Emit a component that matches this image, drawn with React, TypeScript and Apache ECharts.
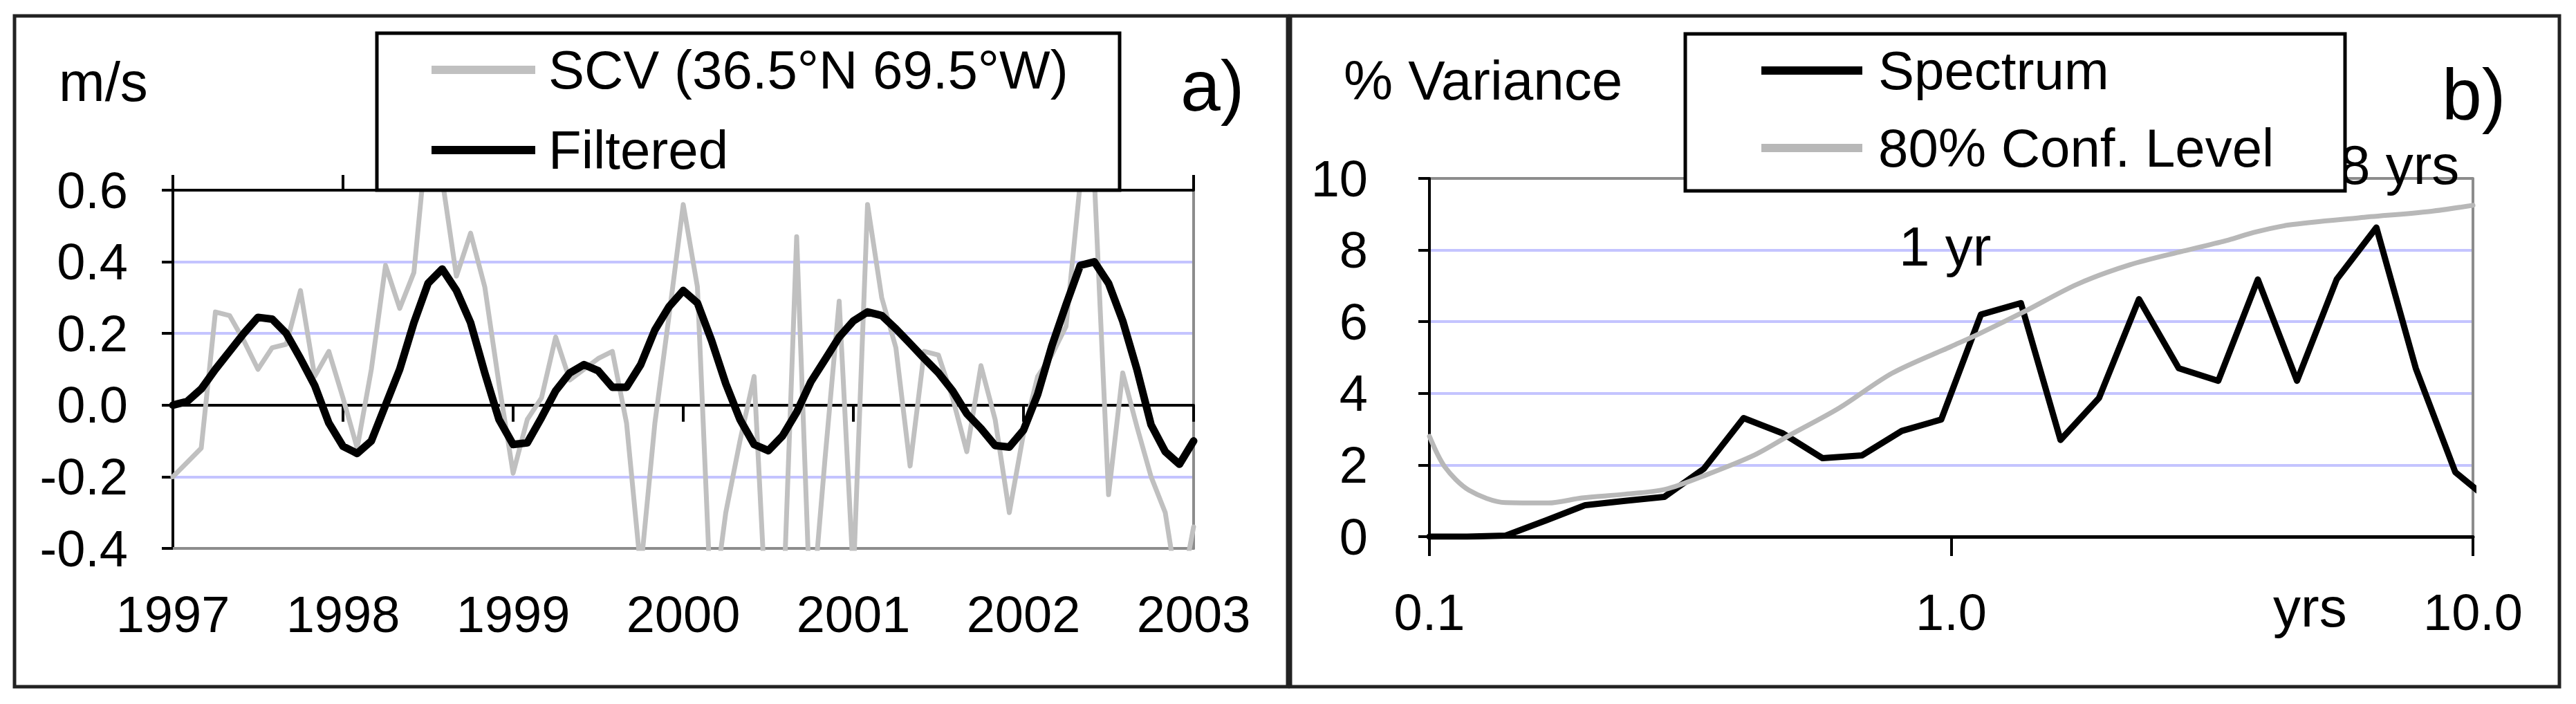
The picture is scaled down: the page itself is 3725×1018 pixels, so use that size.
import React, { useEffect, useRef } from "react";
import * as echarts from "echarts";

const FONT = '"Liberation Sans", Arial, Helvetica, sans-serif';

// ---------- Panel a: monthly current speed (m/s), Jan 1997 .. Jan 2003 ----------
const startYear = 1997;
const endYear = 2003;
const scvValues = [
  -0.2, -0.16, -0.12, 0.26, 0.25, 0.18, 0.1, 0.16, 0.17, 0.32,
  0.08, 0.15, 0.02, -0.12, 0.1, 0.39, 0.27, 0.37, 0.78, 0.63,
  0.36, 0.48, 0.33, 0.06, -0.19, -0.04, 0.02, 0.19, 0.07, 0.1,
  0.13, 0.15, -0.05, -0.46, -0.05, 0.25, 0.56, 0.33, -0.6, -0.3,
  -0.1, 0.08, -0.7, -0.62, 0.47, -0.62, -0.15, 0.29, -0.48, 0.56,
  0.3, 0.16, -0.17, 0.15, 0.14, 0.02, -0.13, 0.11, -0.04, -0.3,
  -0.08, 0.08, 0.14, 0.22, 0.62, 0.63, -0.25, 0.09, -0.06, -0.2,
  -0.3, -0.55, -0.34,
];
const filteredValues = [
  0.0, 0.01, 0.045, 0.1, 0.15, 0.2, 0.245, 0.24, 0.2, 0.13,
  0.055, -0.05, -0.115, -0.135, -0.1, 0.0, 0.1, 0.23, 0.34, 0.38,
  0.32, 0.23, 0.09, -0.04, -0.11, -0.105, -0.035, 0.04, 0.09, 0.113,
  0.096, 0.05, 0.05, 0.113, 0.21, 0.275, 0.32, 0.285, 0.18, 0.06,
  -0.04, -0.11, -0.127, -0.086, -0.02, 0.065, 0.127, 0.19, 0.235, 0.26,
  0.25, 0.213, 0.172, 0.13, 0.09, 0.04, -0.024, -0.065, -0.113, -0.117,
  -0.07, 0.03, 0.165, 0.28, 0.39, 0.4, 0.34, 0.235, 0.1, -0.055,
  -0.13, -0.165, -0.1,
];
const aYMin = -0.4;
const aYMax = 0.6;
const aYStep = 0.2;

// ---------- Panel b: variance spectrum vs period (yrs) ----------
const specPeriods = [
  0.1, 0.118, 0.14, 0.167, 0.199, 0.237, 0.282, 0.336, 0.4, 0.476,
  0.567, 0.675, 0.804, 0.957, 1.14, 1.36, 1.62, 1.92, 2.29, 2.73,
  3.25, 3.87, 4.6, 5.48, 6.53, 7.77, 9.25, 11.0,
];
const specValues = [
  0.0, 0.0, 0.03, 0.45, 0.88, 1.0, 1.11, 1.9, 3.31, 2.88,
  2.19, 2.27, 2.95, 3.27, 6.2, 6.52, 2.7, 3.87, 6.63, 4.7,
  4.35, 7.18, 4.35, 7.18, 8.63, 4.7, 1.8, 0.9,
];
const confPeriods = [
  0.1, 0.107, 0.119, 0.14, 0.169, 0.196, 0.235, 0.283, 0.34, 0.42,
  0.49, 0.61, 0.77, 1.0, 1.13, 1.38, 1.74, 2.2, 2.78, 3.4,
  3.8, 4.44, 6.05, 8.28, 10.0,
];
const confValues = [
  2.8, 1.95, 1.3, 0.95, 0.94, 1.08, 1.18, 1.32, 1.73, 2.28,
  2.83, 3.59, 4.56, 5.31, 5.66, 6.28, 7.04, 7.59, 7.97, 8.28,
  8.49, 8.7, 8.9, 9.08, 9.25,
];
const bYMin = 0;
const bYMax = 10;
const bYStep = 2;

const NAME_SCV = "SCV (36.5°N 69.5°W)";
const NAME_FILT = "Filtered";
const NAME_SPEC = "Spectrum";
const NAME_CONF = "80% Conf. Level";

const GRID_COLOR = "#c4c4ff";
const BORDER_GREY = "#8c8c8c";

function legendRow(name: string, left: number, centerY: number, iconW: number, textGap: number) {
  const lh = 90;
  return {
    data: [name],
    orient: "vertical",
    left,
    top: centerY - lh / 2,
    padding: 0,
    itemWidth: iconW,
    itemHeight: 12,
    icon: "rect",
    selectedMode: false,
    z: 10,
    textStyle: {
      fontSize: 78,
      fontFamily: FONT,
      color: "#000",
      lineHeight: lh,
      padding: [0, 0, 0, textGap],
    },
  };
}

function buildOption() {
  const monthX = (i: number) => startYear + i / 12;
  const scvData = scvValues.map((v, i) => [monthX(i), v]);
  const filtData = filteredValues.map((v, i) => [monthX(i), v]);
  const specData = specPeriods.map((p, i) => [p, specValues[i]]);
  const confData = confPeriods.map((p, i) => [p, confValues[i]]);

  const tickLabel = { fontSize: 74, fontFamily: FONT, color: "#000" };
  const gridA = { left: 250, top: 275, width: 1476, height: 518 };
  const gridB = { left: 2067, top: 258, width: 1509, height: 518 };

  const txt = (text: string, x: number, y: number, size: number, z = 1) => ({
    type: "text",
    x,
    y,
    z,
    style: {
      text,
      fontSize: size,
      fontFamily: FONT,
      fill: "#000",
      verticalAlign: "middle",
      textVerticalAlign: "middle",
    },
  });

  return {
    animation: false,
    backgroundColor: "#fff",
    grid: [
      { ...gridA, containLabel: false },
      { ...gridA, containLabel: false },
      { ...gridB, containLabel: false },
    ],
    xAxis: [
      {
        gridIndex: 0,
        type: "value",
        min: startYear,
        max: endYear,
        interval: 1,
        position: "bottom",
        axisLine: { show: true, onZero: true, lineStyle: { color: "#000", width: 4 } },
        axisTick: { show: true, length: 24, lineStyle: { color: "#000", width: 4 } },
        axisLabel: { show: false },
        splitLine: { show: false },
      },
      {
        gridIndex: 0,
        type: "value",
        min: startYear,
        max: endYear,
        interval: 1,
        position: "top",
        axisLine: { show: true, onZero: true, lineStyle: { color: "#000", width: 4 } },
        axisTick: { show: true, length: 22, lineStyle: { color: "#000", width: 4 } },
        axisLabel: { show: false },
        splitLine: { show: false },
      },
      {
        gridIndex: 1,
        type: "value",
        min: startYear,
        max: endYear,
        interval: 1,
        position: "bottom",
        axisLine: { show: true, onZero: false, lineStyle: { color: BORDER_GREY, width: 4 } },
        axisTick: { show: false },
        axisLabel: { ...tickLabel, margin: 58, formatter: (v: number) => String(Math.round(v)) },
        splitLine: { show: false },
      },
      {
        gridIndex: 2,
        type: "log",
        logBase: 10,
        min: 0.1,
        max: 10,
        position: "bottom",
        axisLine: { show: true, onZero: false, lineStyle: { color: "#000", width: 5 } },
        axisTick: { show: true, length: 28, lineStyle: { color: "#000", width: 4 } },
        minorTick: { show: false },
        axisLabel: { ...tickLabel, margin: 72, formatter: (v: number) => v.toFixed(1) },
        splitLine: { show: false },
      },
    ],
    yAxis: [
      {
        gridIndex: 0,
        type: "value",
        min: aYMin,
        max: aYMax,
        interval: aYStep,
        position: "left",
        axisLine: { show: true, onZero: false, lineStyle: { color: "#000", width: 4 } },
        axisTick: { show: true, length: 16, lineStyle: { color: "#000", width: 4 } },
        axisLabel: { ...tickLabel, margin: 65, formatter: (v: number) => v.toFixed(1) },
        splitLine: {
          show: true,
          lineStyle: {
            color: [BORDER_GREY, GRID_COLOR, GRID_COLOR, GRID_COLOR, GRID_COLOR, BORDER_GREY],
            width: 4,
          },
        },
      },
      {
        gridIndex: 1,
        type: "value",
        min: aYMin,
        max: aYMax,
        interval: aYStep,
        position: "right",
        axisLine: { show: true, onZero: false, lineStyle: { color: BORDER_GREY, width: 4 } },
        axisTick: { show: false },
        axisLabel: { show: false },
        splitLine: { show: false },
      },
      {
        gridIndex: 2,
        type: "value",
        min: bYMin,
        max: bYMax,
        interval: bYStep,
        position: "left",
        axisLine: { show: true, onZero: false, lineStyle: { color: "#000", width: 4 } },
        axisTick: { show: true, length: 16, lineStyle: { color: "#000", width: 4 } },
        axisLabel: { ...tickLabel, margin: 89, formatter: (v: number) => String(Math.round(v)) },
        splitLine: {
          show: true,
          lineStyle: {
            color: [GRID_COLOR, GRID_COLOR, GRID_COLOR, GRID_COLOR, GRID_COLOR, BORDER_GREY],
            width: 4,
          },
        },
      },
      {
        gridIndex: 2,
        type: "value",
        min: bYMin,
        max: bYMax,
        interval: bYStep,
        position: "right",
        axisLine: { show: true, onZero: false, lineStyle: { color: BORDER_GREY, width: 4 } },
        axisTick: { show: false },
        axisLabel: { show: false },
        splitLine: { show: false },
      },
    ],
    legend: [
      legendRow(NAME_SCV, 624, 101, 150, 14),
      legendRow(NAME_FILT, 624, 217, 150, 14),
      legendRow(NAME_SPEC, 2547, 102, 146, 18),
      legendRow(NAME_CONF, 2547, 214, 146, 18),
    ],
    series: [
      {
        name: NAME_SCV,
        type: "line",
        xAxisIndex: 0,
        yAxisIndex: 0,
        data: scvData,
        showSymbol: false,
        symbol: "none",
        clip: true,
        color: "#c0c0c0",
        lineStyle: { color: "#c0c0c0", width: 7, join: "round", cap: "round" },
        z: 2,
      },
      {
        name: NAME_FILT,
        type: "line",
        xAxisIndex: 0,
        yAxisIndex: 0,
        data: filtData,
        showSymbol: false,
        symbol: "none",
        clip: true,
        color: "#000",
        lineStyle: { color: "#000", width: 11, join: "round", cap: "round" },
        z: 3,
      },
      {
        name: NAME_SPEC,
        type: "line",
        xAxisIndex: 3,
        yAxisIndex: 2,
        data: specData,
        showSymbol: false,
        symbol: "none",
        clip: true,
        color: "#000",
        lineStyle: { color: "#000", width: 9, join: "round", cap: "round" },
        z: 2,
      },
      {
        name: NAME_CONF,
        type: "line",
        xAxisIndex: 3,
        yAxisIndex: 2,
        data: confData,
        showSymbol: false,
        symbol: "none",
        clip: true,
        smooth: 0.3,
        color: "#b8b8b8",
        lineStyle: { color: "#b8b8b8", width: 7, join: "round", cap: "round" },
        z: 3,
      },
    ],
    graphic: [
      {
        type: "rect",
        z: 0,
        shape: { x: 21, y: 23, width: 1841, height: 970 },
        style: { fill: "none", stroke: "#222", lineWidth: 5 },
      },
      {
        type: "rect",
        z: 0,
        shape: { x: 1866, y: 23, width: 1835, height: 970 },
        style: { fill: "none", stroke: "#222", lineWidth: 5 },
      },
      txt("m/s", 85, 118, 80),
      txt("a)", 1707, 124, 104),
      txt("% Variance", 1943, 116, 80),
      txt("b)", 3531, 136, 104),
      txt("1 yr", 2746, 356, 80),
      txt("8 yrs", 3383, 238, 80, 1),
      txt("yrs", 3287, 878, 80),
      {
        type: "rect",
        z: 5,
        shape: { x: 545, y: 48, width: 1074, height: 227 },
        style: { fill: "#fff", stroke: "#000", lineWidth: 5 },
      },
      {
        type: "rect",
        z: 5,
        shape: { x: 2437, y: 49, width: 954, height: 227 },
        style: { fill: "#fff", stroke: "#000", lineWidth: 5 },
      },
    ],
  };
}

export default function App() {
  const ref = useRef<HTMLDivElement | null>(null);
  useEffect(() => {
    if (!ref.current) return;
    const chart = echarts.init(ref.current, null, { renderer: "svg" });
    chart.setOption(buildOption() as any);
    return () => chart.dispose();
  }, []);
  return (
    <div
      ref={ref}
      style={{
        position: "fixed",
        left: 0,
        top: 0,
        width: 3725,
        height: 1018,
        background: "#fff",
      }}
    />
  );
}
